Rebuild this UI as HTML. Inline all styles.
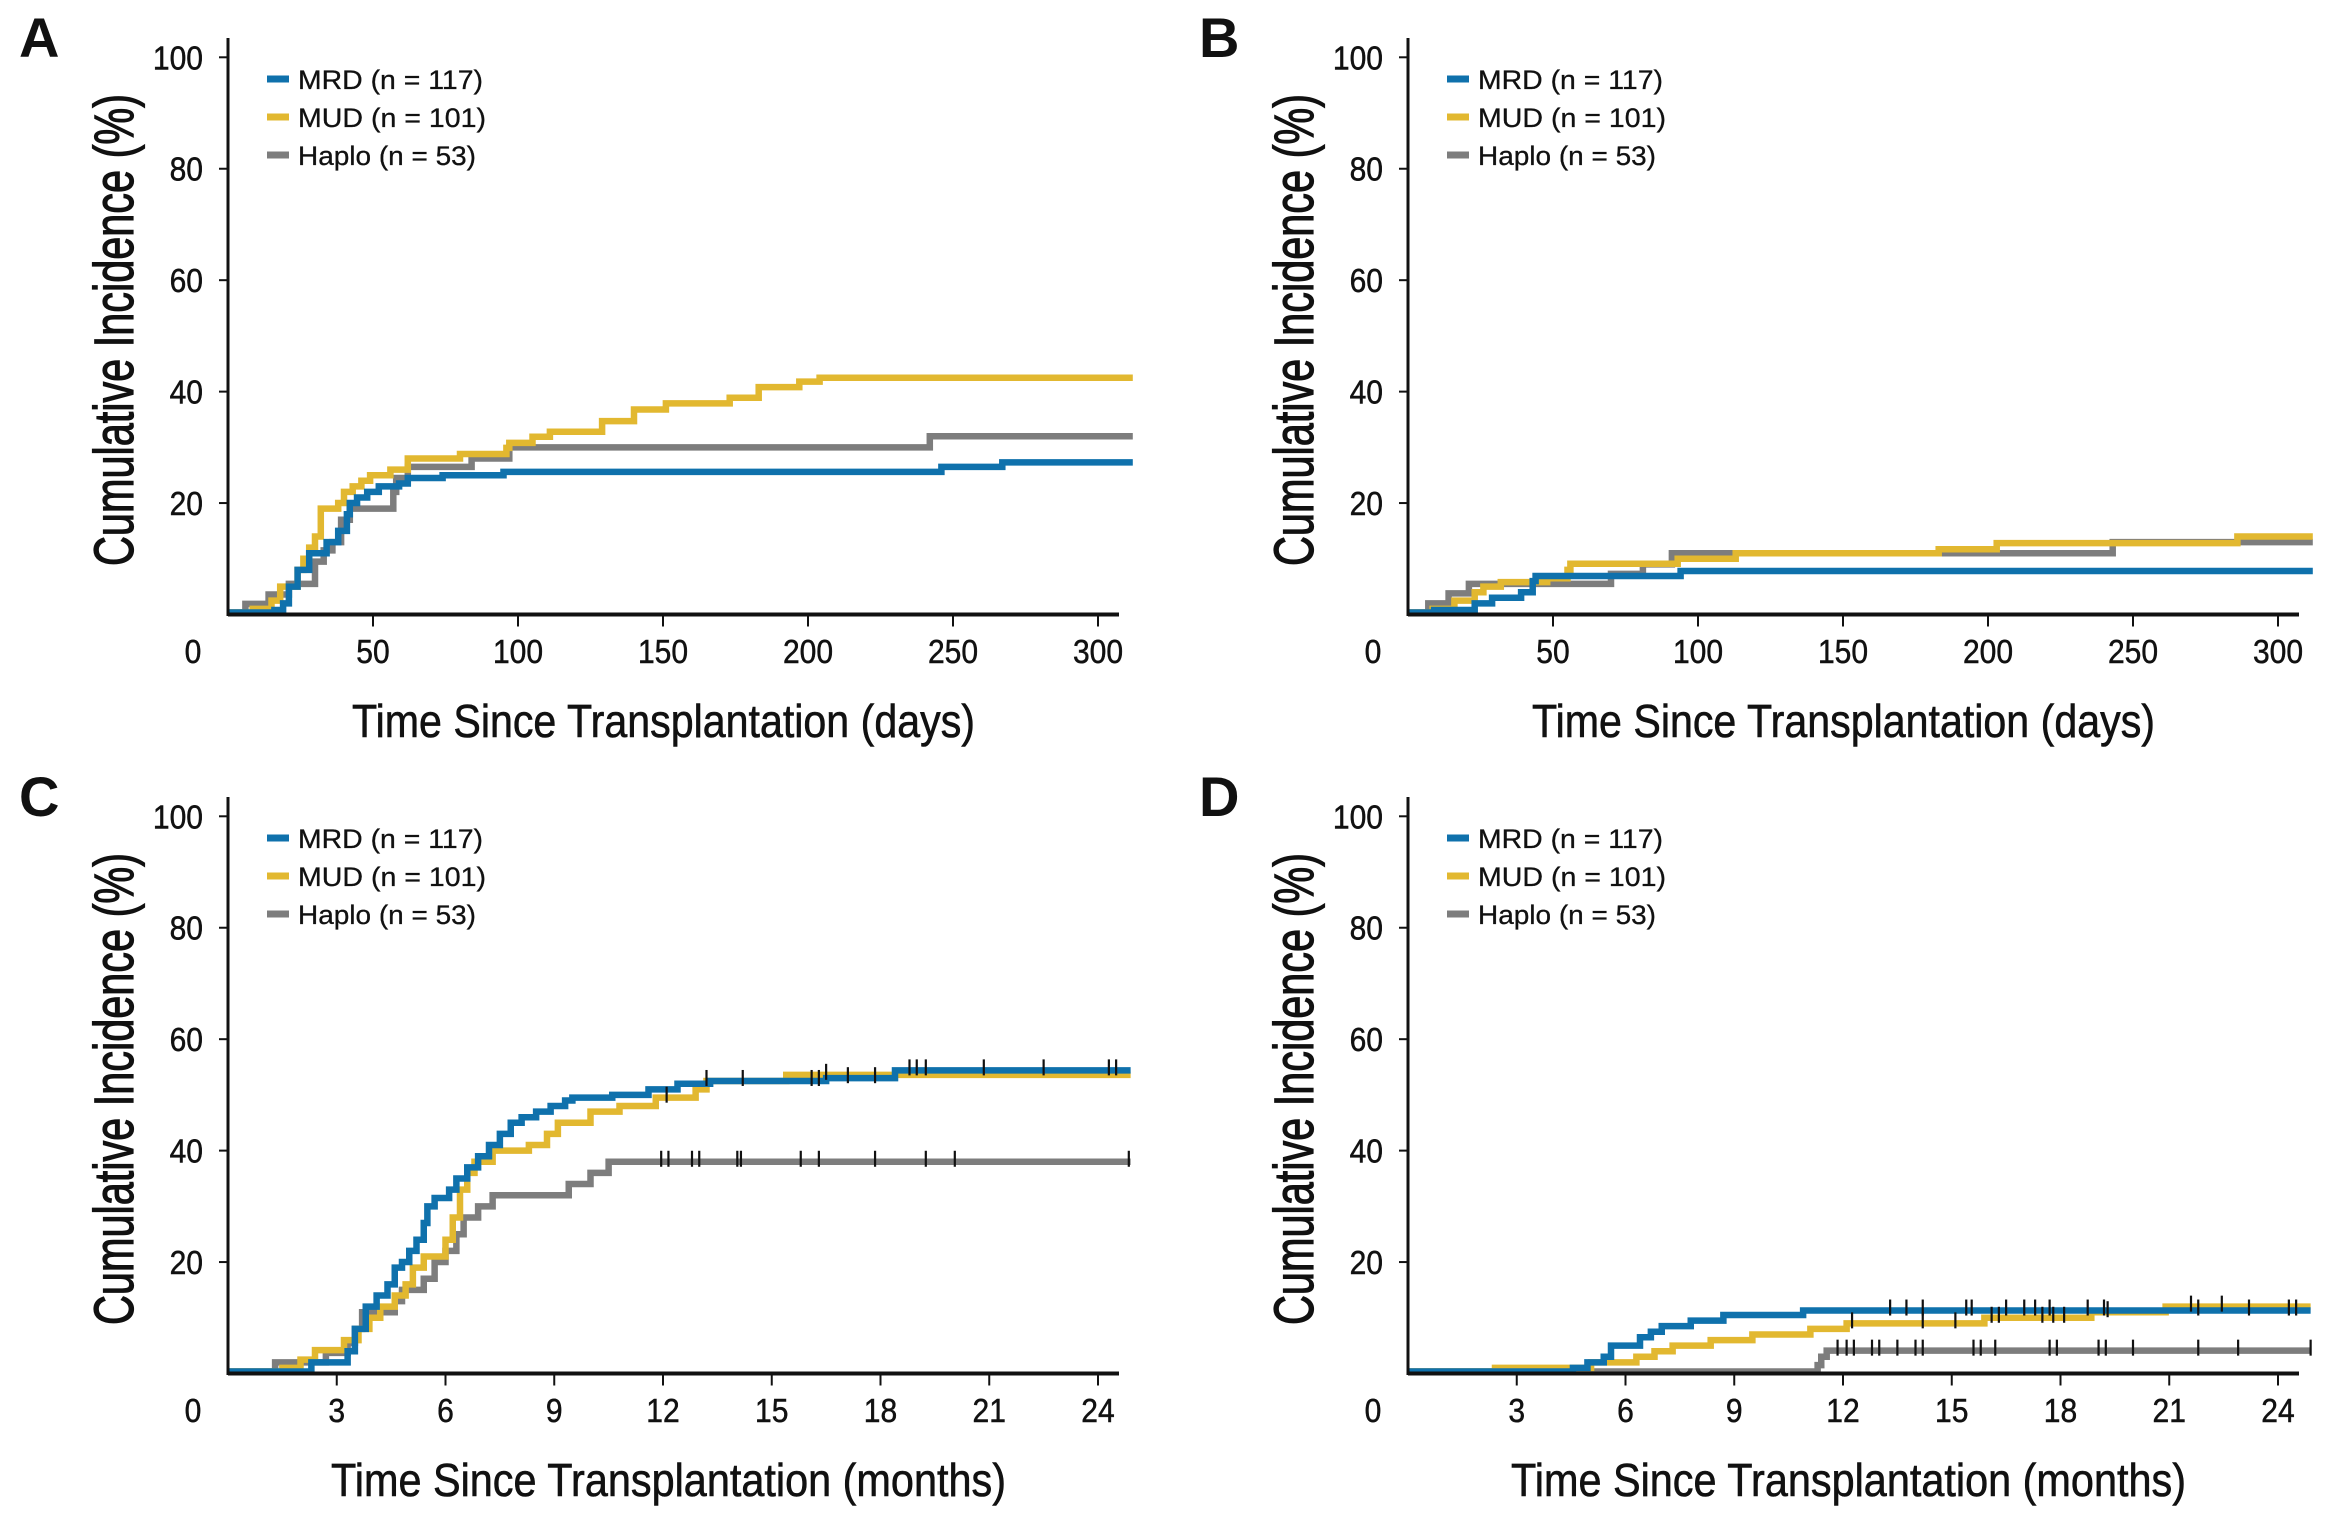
<!DOCTYPE html>
<html><head><meta charset="utf-8"><style>
html,body{margin:0;padding:0;background:#fff;}
svg{display:block;}
text{font-family:"Liberation Sans",sans-serif;fill:#111;}
</style></head><body>
<svg id="fig" width="2328" height="1518" viewBox="0 0 2328 1518" xmlns="http://www.w3.org/2000/svg"></svg>
<script>
// ---- Panel A (days) ----
const aMrdT=[16,19,21,24,28,34,38,41,42,44.5,48,52,59,62,74,95,246,267];
const aMrdV=[0.8,2,5,8,11,13,15,18,20,21,22,23,23.5,24.5,25,25.6,26.5,27.3];
const aMudT=[8.5,15,18,24,26,28,30,32,38,40,43,46,49,56,62,80,96,97,105,111,129,140,151,173,183,197,204];
const aMudV=[1,2.5,5,8,10,12,14,19,20,22,23,24,25,26,28,28.8,29.9,30.8,31.9,32.8,34.7,36.8,37.9,38.9,40.8,41.8,42.5];
const aHapT=[6,14,21,30,33,36,39,42,57,58,62,84,97,242];
const aHapV=[1.9,3.6,5.5,9.5,11.5,13,17,19,22,24.5,26.5,28,30,32];
// ---- Panel B (days) ----
const bMrdT=[9,23,29,39,43,44,94];
const bMrdV=[0.8,2,3,4,6,6.9,7.8];
const bMudT=[8.5,16,23,26,32,48,55,56,93,113,183,203,286];
const bMudV=[1,2.5,4,5,5.8,6.5,8,9.1,10,11,11.7,12.8,14];
const bHapT=[7,14,21,70,81,91,243];
const bHapV=[2,3.8,5.5,7.3,9,11,13];
// ---- Panel C (months) ----
const cMrdT=[2.3,3.3,3.5,3.8,4.1,4.4,4.6,4.8,5.0,5.2,5.4,5.5,5.7,6.1,6.3,6.6,6.9,7.2,7.5,7.8,8.1,8.5,8.9,9.3,9.5,10.6,11.6,12.4,13.3,16.5,18.4];
const cMrdV=[2,4,8,12,14,16,19,20,22,24,27,30,31.5,33,35,37,39,41,43,45,46,47,48,49,49.5,50,51,52,52.5,53,54.4];
const cMudT=[1.5,2.0,2.4,3.2,3.6,3.9,4.2,4.6,4.9,5.1,5.4,6.0,6.2,6.4,6.6,6.8,7.3,8.3,8.8,9.1,10.0,10.8,11.8,12.9,13.2,15.4];
const cMudV=[1,2.5,4.2,6,8,10,12,14,16,19,21,24,28,33,36,38,40,41,43,45,47,48,49.5,51,52.5,53.6];
const cHapT=[1.3,2.7,3.3,3.5,3.7,4.6,4.8,5.4,5.7,6.0,6.3,6.5,6.9,7.3,9.4,10.0,10.5];
const cHapV=[2,3.7,5.5,8,11,13,15,17,20,22,25,28,30,32,34,36,38];
const cMrdCens=[16.1,16.3,17.1,17.85,18.8,19.0,19.25,20.85,22.5,24.3,24.5];
const cMudCens=[12.1,13.2,14.2,16.5];
const cHapCens=[11.95,12.15,12.8,13.0,14.05,14.15,15.8,16.3,17.85,19.25,20.05,24.85];
// ---- Panel D (months) ----
const dMrdT=[4.55,4.95,5.4,5.6,6.4,6.7,7.0,7.8,8.7,10.9];
const dMrdV=[1,2,3,5,6.5,7.5,8.5,9.5,10.5,11.3];
const dMudT=[2.4,5.05,6.3,6.8,7.3,8.35,9.5,11.1,12.1,15.9,18.85,20.9];
const dMudV=[1,2,3,4,5,6,7,8,9,10,11,12];
const dHapT=[11.3,11.4,11.55];
const dHapV=[1.5,3,4.1];
const dMrdCens=[13.3,13.75,14.2,15.4,15.55,16.5,17.0,17.3,17.7,18.75,19.2,21.8,23.2,24.3,24.5];
const dMudCens=[12.25,14.2,15.1,16.1,16.3,17.5,17.8,18.1,19.3,21.6,22.45];
const dHapCens=[11.85,12.1,12.3,12.8,13.0,13.5,14.0,14.2,15.6,15.8,16.2,17.7,17.9,19.05,19.25,20.0,21.8,22.9,24.9];
// ticks
const yTicks=[20,40,60,80,100];
const dayTicks=[50,100,150,200,250,300];
const monthTicks=[3,6,9,12,15,18,21,24];
const legendLabels=["MRD (n = 117)","MUD (n = 101)","Haplo (n = 53)"];

const NS="http://www.w3.org/2000/svg";
const fig=document.getElementById('fig');
const COLORS=["#0f71ac","#e2b830","#7d7d7d"];
function mk(tag,attrs,parent){const e=document.createElementNS(NS,tag);for(const k in attrs)e.setAttribute(k,attrs[k]);parent.appendChild(e);return e;}

function valAt(T,V,t){let v=0;for(let i=0;i<T.length;i++){if(T[i]<=t)v=V[i];}return v;}

function panel(opt){
  const ox=opt.ox, oy=opt.oy;
  const x0=228+ox, y0=614.5+oy, yTop=57.3+oy;
  const pxPerY=(y0-yTop)/100;
  const xs=t=>x0+t*opt.pxPerT;
  const ys=v=>y0-v*pxPerY;
  const g=mk('g',{},fig);
  
  
  const lt=mk('text',{x:19+ox,y:57+oy,'font-size':56,'font-weight':'bold'},g);
  lt.textContent=opt.letter;
  
  
  const series=opt.series;
  for(let s=series.length-1;s>=0;s--){
    const [T,V]=series[s];
    let d='M'+xs(0)+' '+(y0-2);
    for(let i=0;i<T.length;i++){d+=' H'+xs(T[i])+' V'+ys(V[i]);}
    d+=' H'+xs(opt.tEnd);
    const p=mk('path',{d:d,fill:'none',stroke:COLORS[s],'stroke-width':6.5,'stroke-linejoin':'miter'},g);
    
    
  }
  if(opt.cens){
    for(let s=0;s<3;s++){
      const [T,V]=series[s];
      opt.cens[s].forEach(t=>{
        const yy=ys(valAt(T,V,t));
        const c=mk('line',{x1:xs(t),x2:xs(t),y1:yy-11,y2:yy+5,stroke:'#111','stroke-width':2.2},g);
        
        
      });
    }
  }
  const ya=mk('line',{x1:x0,x2:x0,y1:38+oy,y2:y0+1.5,stroke:'#111','stroke-width':3},g);
  
  
  const xa=mk('line',{x1:x0,x2:1119+ox,y1:y0,y2:y0,stroke:'#111','stroke-width':4},g);
  
  
  yTicks.forEach(v=>{
    mk('line',{x1:x0-9,x2:x0,y1:ys(v),y2:ys(v),stroke:'#111','stroke-width':2},g);
    const s=String(v);
    const t=mk('text',{x:x0-25,y:ys(v)+12,'font-size':33,'text-anchor':'end',textLength:s.length*16.7,lengthAdjust:'spacingAndGlyphs',stroke:'#111','stroke-width':0.5},g);
    t.textContent=s;
    
    
  });
  const z=mk('text',{x:x0-35,y:663+oy,'font-size':33,'text-anchor':'middle',textLength:16.7,lengthAdjust:'spacingAndGlyphs',stroke:'#111','stroke-width':0.5},g);
  z.textContent='0';
  
  
  opt.xTicks.forEach(v=>{
    mk('line',{x1:xs(v),x2:xs(v),y1:y0,y2:y0+12,stroke:'#111','stroke-width':2},g);
    const s=String(v);
    const t=mk('text',{x:xs(v),y:663+oy,'font-size':33,'text-anchor':'middle',textLength:s.length*16.7,lengthAdjust:'spacingAndGlyphs',stroke:'#111','stroke-width':0.5},g);
    t.textContent=s;
    
    
  });
  const xt=mk('text',{x:opt.xtX+ox,y:737+oy,'font-size':46,textLength:opt.xtW,lengthAdjust:'spacingAndGlyphs',stroke:'#111','stroke-width':0.6},g);
  xt.textContent=opt.xTitle;
  
  
  const yt=mk('text',{x:0,y:0,'font-size':56,'text-anchor':'middle',textLength:472,lengthAdjust:'spacingAndGlyphs',stroke:'#111','stroke-width':1.2,transform:'translate('+(133+ox)+','+(330+oy)+') rotate(-90)'},g);
  yt.textContent='Cumulative Incidence (%)';
  
  
  const ly=[79,117,155];
  for(let i=0;i<3;i++){
    const sw=mk('rect',{x:267+ox,y:ly[i]-3.5+oy,width:22,height:7,fill:COLORS[i]},g);
    
    
    const w=[185,188,178][i];
    const lt2=mk('text',{x:298+ox,y:ly[i]+10+oy,'font-size':27,textLength:w,lengthAdjust:'spacingAndGlyphs',stroke:'#111','stroke-width':0.3},g);
    lt2.textContent=legendLabels[i];
    
    
  }
}
const dayPx=(1098-228)/300, monPx=(1098-228)/24;
panel({letter:'A',ox:0,oy:0,pxPerT:dayPx,tEnd:312,xTicks:dayTicks,xTitle:'Time Since Transplantation (days)',xtX:352,xtW:623,
  series:[[aMrdT,aMrdV],[aMudT,aMudV],[aHapT,aHapV]]});
panel({letter:'B',ox:1180,oy:0,pxPerT:dayPx,tEnd:312,xTicks:dayTicks,xTitle:'Time Since Transplantation (days)',xtX:352,xtW:623,
  series:[[bMrdT,bMrdV],[bMudT,bMudV],[bHapT,bHapV]]});
panel({letter:'C',ox:0,oy:759,pxPerT:monPx,tEnd:24.9,xTicks:monthTicks,xTitle:'Time Since Transplantation (months)',xtX:331,xtW:675,
  series:[[cMrdT,cMrdV],[cMudT,cMudV],[cHapT,cHapV]],cens:[cMrdCens,cMudCens,cHapCens]});
panel({letter:'D',ox:1180,oy:759,pxPerT:monPx,tEnd:24.9,xTicks:monthTicks,xTitle:'Time Since Transplantation (months)',xtX:331,xtW:675,
  series:[[dMrdT,dMrdV],[dMudT,dMudV],[dHapT,dHapV]],cens:[dMrdCens,dMudCens,dHapCens]});
</script>
</body></html>
